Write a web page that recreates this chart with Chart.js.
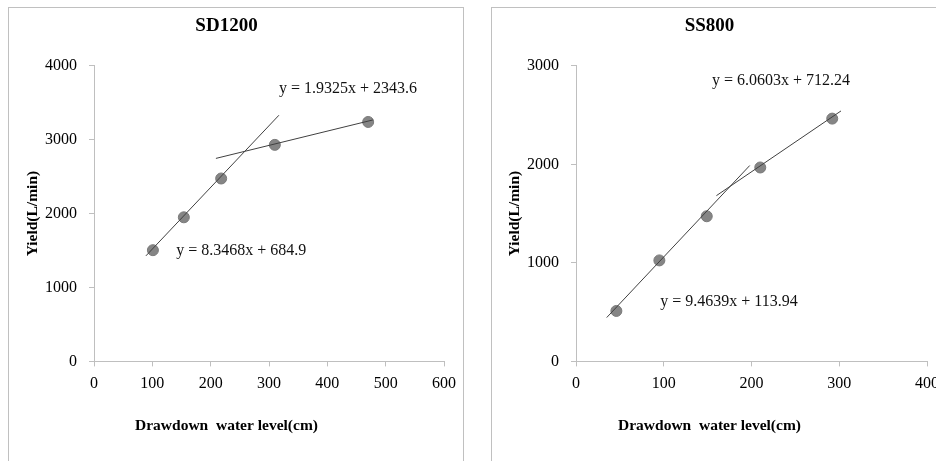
<!DOCTYPE html>
<html lang="en">
  <head>
    <meta charset="UTF-8" />
    <title>SD1200 / SS800 - Yield vs drawdown</title>
    <script src="https://cdn.jsdelivr.net/npm/chart.js"></script>
    <style>
      html, body {
        margin: 0;
        padding: 0;
        background: #fff;
        overflow: hidden;
      }
      .box {
        position: absolute;
        top: 7px;
        height: 470px;
        border: 1px solid #c0c0c0;
        background: #fff;
      }
      .box canvas {
        display: block;
      }
    </style>
  </head>
  <body>
    <div class="box" style="left: 8px; width: 454px">
      <canvas id="chartSD" width="454" height="453"></canvas>
    </div>
    <div class="box" style="left: 491px; width: 451px">
      <canvas id="chartSS" width="451" height="453"></canvas>
    </div>

    <script>
      // SD1200 measurements
      const sdDrawdown = [101, 154, 218, 310, 470];
      const sdYield = [1505, 1950, 2475, 2930, 3240];
      // trendline end points (x, y) as drawn
      const sdTrend1X = [89, 317];
      const sdTrend1Y = [1428, 3331];
      const sdTrend2X = [209, 478];
      const sdTrend2Y = [2747, 3267];
      const sdEq1 = "y = 8.3468x + 684.9";
      const sdEq2 = "y = 1.9325x + 2343.6";

      // SS800 measurements
      const ssDrawdown = [46, 95, 149, 210, 292];
      const ssYield = [512, 1025, 1473, 1968, 2464];
      const ssTrend1X = [35, 198];
      const ssTrend1Y = [445, 1988];
      const ssTrend2X = [160, 302];
      const ssTrend2Y = [1682, 2542];
      const ssEq1 = "y = 9.4639x + 113.94";
      const ssEq2 = "y = 6.0603x + 712.24";

      const serif = "'Liberation Serif', 'Times New Roman', serif";
      const axisGray = "#bfbfbf";

      function pairs(xs, ys) {
        return xs.map((x, i) => ({ x: x, y: ys[i] }));
      }

      // draws the trendline equations at data positions
      const equationPlugin = {
        id: "equations",
        afterDatasetsDraw(chart, args, opts) {
          const ctx = chart.ctx;
          const xs = chart.scales.x;
          const ys = chart.scales.y;
          ctx.save();
          ctx.font = "16px " + serif;
          ctx.fillStyle = "#111";
          ctx.textAlign = "left";
          ctx.textBaseline = "middle";
          (opts.labels || []).forEach(l => {
            ctx.fillText(l.text, xs.getPixelForValue(l.x), ys.getPixelForValue(l.y));
          });
          ctx.restore();
        }
      };

      function makeChart(id, cfg) {
        const trendStyle = {
          type: "line",
          borderColor: "#404040",
          borderWidth: 1,
          pointRadius: 0,
          fill: false,
          order: 1
        };
        new Chart(document.getElementById(id), {
          type: "scatter",
          data: {
            datasets: [
              {
                label: "Yield",
                data: pairs(cfg.x, cfg.y),
                backgroundColor: "#858585",
                borderColor: "#7a7a7a",
                borderWidth: 1,
                pointRadius: 5.5,
                order: 2
              },
              Object.assign({ data: pairs(cfg.t1x, cfg.t1y) }, trendStyle),
              Object.assign({ data: pairs(cfg.t2x, cfg.t2y) }, trendStyle)
            ]
          },
          options: {
            responsive: false,
            animation: false,
            events: [],
            layout: { padding: { left: 0, right: cfg.padRight, top: 0, bottom: 0 } },
            plugins: {
              legend: { display: false },
              tooltip: { enabled: false },
              title: {
                display: true,
                text: cfg.title,
                color: "#000",
                font: { family: serif, size: 19, weight: "bold" },
                padding: { top: 7, bottom: 28 }
              },
              subtitle: {
                display: true,
                position: "bottom",
                text: "Drawdown  water level(cm)",
                color: "#000",
                font: { family: serif, size: 15.5, weight: "bold" },
                padding: { top: 0, bottom: 26 }
              },
              equations: { labels: cfg.labels }
            },
            scales: {
              x: {
                type: "linear",
                min: 0,
                max: cfg.xMax,
                afterFit(scale) {
                  scale.height = 55;
                  // let the layout padding alone decide the right edge
                  scale.paddingLeft = 0;
                  scale.paddingRight = 0;
                },
                ticks: {
                  stepSize: 100,
                  color: "#000",
                  padding: 8,
                  maxRotation: 0,
                  font: { family: serif, size: 16 },
                  callback: v => String(v)
                },
                grid: { display: true, drawOnChartArea: false, drawTicks: true, tickLength: 5, color: axisGray },
                border: { color: axisGray }
              },
              y: {
                type: "linear",
                min: 0,
                max: cfg.yMax,
                afterFit(scale) { scale.width = cfg.yWidth; },
                ticks: {
                  stepSize: 1000,
                  color: "#000",
                  padding: 12,
                  font: { family: serif, size: 16 },
                  callback: v => String(v)
                },
                grid: { display: true, drawOnChartArea: false, drawTicks: true, tickLength: 5, color: axisGray },
                border: { color: axisGray },
                title: {
                  display: true,
                  text: "Yield(L/min)",
                  color: "#000",
                  font: { family: serif, size: 15.5, weight: "bold" },
                  padding: { top: cfg.yTitlePad, bottom: 0 }
                }
              }
            }
          },
          plugins: [equationPlugin]
        });
      }

      makeChart("chartSD", {
        title: "SD1200",
        x: sdDrawdown, y: sdYield,
        t1x: sdTrend1X, t1y: sdTrend1Y,
        t2x: sdTrend2X, t2y: sdTrend2Y,
        xMax: 600, yMax: 4000,
        padRight: 19, yWidth: 85, yTitlePad: 15,
        labels: [
          { text: sdEq2, x: 317, y: 3689 },
          { text: sdEq1, x: 141, y: 1500 }
        ]
      });

      makeChart("chartSS", {
        title: "SS800",
        x: ssDrawdown, y: ssYield,
        t1x: ssTrend1X, t1y: ssTrend1Y,
        t2x: ssTrend2X, t2y: ssTrend2Y,
        xMax: 400, yMax: 3000,
        padRight: 16, yWidth: 84, yTitlePad: 14,
        labels: [
          { text: ssEq2, x: 155, y: 2847 },
          { text: ssEq1, x: 96, y: 608 }
        ]
      });
    </script>
  </body>
</html>
